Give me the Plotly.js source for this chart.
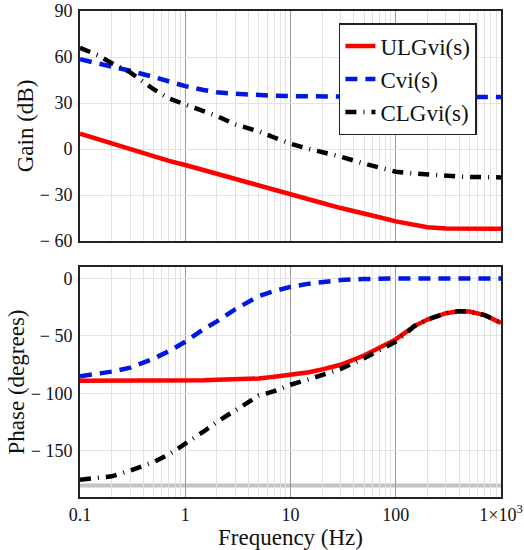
<!DOCTYPE html>
<html>
<head>
<meta charset="utf-8">
<script src="https://cdn.plot.ly/plotly-3.0.1.min.js"></script>
<style>html,body{margin:0;padding:0;background:#fff;}#chart{width:524px;height:550px;}</style>
</head>
<body>
<div id="chart"></div>
<script>
// Frequency points (Hz)
const freq = [0.1, 0.15, 0.2, 0.3, 0.5, 0.7, 1, 1.5, 2, 3, 5, 7, 10, 15, 20, 30, 50, 70, 100, 150, 200, 300, 400, 500, 700, 1000];

// Gain (dB)
const gainULG = [10, 6.3, 3.5, 0, -4.8, -7.7, -10.4, -13.8, -16.3, -20, -24.3, -27, -29.8, -33, -35.2, -38.5, -41.7, -44.5, -47.2, -49.5, -51, -51.8, -52, -52, -52, -52];
const gainC   = [58.5, 56, 54, 51, 47, 44, 41, 38.5, 37, 36, 35, 34.7, 34.5, 34.3, 34.2, 34.1, 34, 34, 34, 34, 34, 34, 34, 34, 34, 34];
const gainCLG = [66, 61, 56, 50, 39, 33, 29, 24.5, 21.5, 16, 11.5, 7.5, 3.5, 0, -2, -5, -9.5, -12, -14.8, -16, -16.8, -17.6, -18, -18.2, -18.4, -18.5];

// Phase (degrees)
const phaseULG = [-89, -89, -89, -89, -89, -89, -89, -88.5, -88, -87.5, -87, -85.5, -84, -81.5, -79, -75, -67, -60, -53, -41.4, -35.7, -30.2, -28.4, -28.8, -31.9, -38.6];
const phaseC   = [-85, -82.5, -81, -77.5, -69.7, -63.2, -55, -44, -37.3, -26.6, -15.4, -11, -7.3, -4.5, -3, -1.3, -0.5, 0, 0, 0, 0, 0, 0, 0, 0, 0];
const phaseCLG = [-175, -173.5, -172, -167, -159.6, -153, -144, -133, -124.7, -114.3, -101.8, -98, -92.4, -87.6, -84.3, -78.7, -69.4, -61.9, -55, -41.5, -35.7, -30.2, -28.4, -28.8, -31.9, -38.6];

const seriesNames = ["ULGvi(s)", "Cvi(s)", "CLGvi(s)"];
const phaseRef = -180;

// Tick labels
const xTickVals = [0.1, 1, 10, 100, 1000];
const xTickText = ["0.1", "1", "10", "100", "1×10<sup>3</sup>"];
const xMinorVals = [0.2,0.3,0.4,0.5,0.6,0.7,0.8,0.9,2,3,4,5,6,7,8,9,20,30,40,50,60,70,80,90,200,300,400,500,600,700,800,900];
const gainTickVals = [-60, -30, 0, 30, 60, 90];
const gainTickText = ["− 60", "− 30", "0", "30", "60", "90"];
const phaseTickVals = [-150, -100, -50, 0];
const phaseTickText = ["− 150", "− 100", "− 50", "0"];

const FONT = "'Liberation Serif', 'Times New Roman', Times, serif";
const red = "#ff0000", blue = "#0018e0", black = "#000000";

const traces = [
  {x: freq, y: gainULG, name: seriesNames[0], xaxis: "x", yaxis: "y", mode: "lines", line: {color: red, width: 4.5}},
  {x: freq, y: gainC, name: seriesNames[1], xaxis: "x", yaxis: "y", mode: "lines", line: {color: blue, width: 4.5, dash: "12px,8px"}},
  {x: freq, y: gainCLG, name: seriesNames[2], xaxis: "x", yaxis: "y", mode: "lines", line: {color: black, width: 4.5, dash: "11px,7px,1px,7px"}},
  {x: freq, y: phaseULG, name: seriesNames[0], xaxis: "x2", yaxis: "y2", mode: "lines", showlegend: false, line: {color: red, width: 4.5}},
  {x: freq, y: phaseC, name: seriesNames[1], xaxis: "x2", yaxis: "y2", mode: "lines", showlegend: false, line: {color: blue, width: 4.5, dash: "12px,8px"}},
  {x: freq, y: phaseCLG, name: seriesNames[2], xaxis: "x2", yaxis: "y2", mode: "lines", showlegend: false, line: {color: black, width: 4.5, dash: "11px,7px,1px,7px"}}
];

const xCommon = {
  type: "log", range: [-1, 3],
  tickmode: "array", tickvals: xTickVals, ticktext: xTickText,
  showgrid: true, gridcolor: "#9a9a9a", gridwidth: 1,
  minor: {tickmode: "array", tickvals: xMinorVals, showgrid: true, gridcolor: "#e2e2e2", gridwidth: 1, ticks: ""},
  showline: true, linecolor: "#222", linewidth: 2, mirror: true,
  ticks: "", zeroline: false,
  tickfont: {family: FONT, size: 18, color: "#111"}
};

const layout = {
  width: 524, height: 550,
  margin: {l: 80, r: 23, t: 11, b: 53},
  paper_bgcolor: "#fff", plot_bgcolor: "#fff",
  font: {family: FONT, color: "#111"},
  showlegend: true,
  legend: {
    x: 0.615, y: 0.975, xanchor: "left", yanchor: "top",
    bgcolor: "#fff", bordercolor: "#222", borderwidth: 1.5,
    font: {family: FONT, size: 23, color: "#111"},
    tracegroupgap: 0
  },
  xaxis: Object.assign({}, xCommon, {domain: [0, 1], anchor: "y", showticklabels: false}),
  xaxis2: Object.assign({}, xCommon, {domain: [0, 1], anchor: "y2", matches: "x",
    title: {text: "Frequency (Hz)", font: {family: FONT, size: 23, color: "#111"}, standoff: 5}}),
  yaxis: {
    domain: [0.5267, 1], anchor: "x", range: [-60, 90],
    tickmode: "array", tickvals: gainTickVals, ticktext: gainTickText,
    showgrid: true, gridcolor: "#e2e2e2", zeroline: false,
    showline: true, linecolor: "#222", linewidth: 2, mirror: true,
    ticks: "outside", ticklen: 2, tickcolor: "rgba(0,0,0,0)",
    tickfont: {family: FONT, size: 18, color: "#111"},
    title: {text: "Gain (dB)", font: {family: FONT, size: 23, color: "#111"}, standoff: 0}
  },
  yaxis2: {
    domain: [0, 0.4733], anchor: "x2", range: [-190, 10],
    tickmode: "array", tickvals: phaseTickVals, ticktext: phaseTickText,
    showgrid: true, gridcolor: "#e2e2e2", zeroline: false,
    showline: true, linecolor: "#222", linewidth: 2, mirror: true,
    ticks: "outside", ticklen: 2, tickcolor: "rgba(0,0,0,0)",
    tickfont: {family: FONT, size: 18, color: "#111"},
    title: {text: "Phase (degrees)", font: {family: FONT, size: 23, color: "#111"}, standoff: 0}
  },
  shapes: [
    {type: "line", xref: "x2 domain", yref: "y2", x0: 0, x1: 1, y0: phaseRef, y1: phaseRef,
     line: {color: "#c4c4c4", width: 4}, layer: "below"}
  ]
};

Plotly.newPlot("chart", traces, layout, {staticPlot: true});
</script>
</body>
</html>
